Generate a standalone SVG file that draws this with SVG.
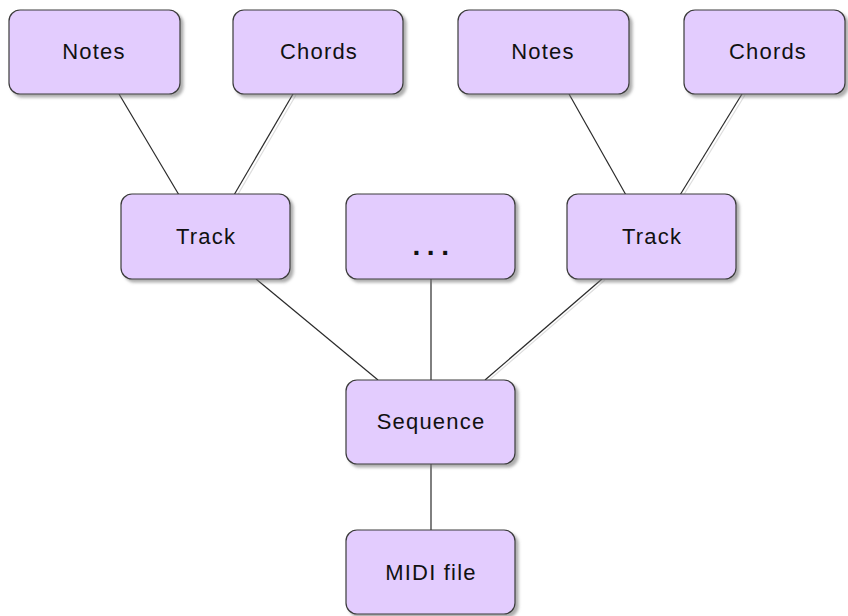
<svg xmlns="http://www.w3.org/2000/svg" width="848" height="616" viewBox="0 0 848 616">
<defs>
<filter id="sh" x="-10%" y="-10%" width="130%" height="130%">
<feDropShadow dx="3" dy="3" stdDeviation="1.5" flood-color="#777" flood-opacity="0.6"/>
</filter>
</defs>
<style>
.box{fill:#E3CCFE;stroke:#3a3a3a;stroke-width:1.2;filter:url(#sh)}
.lbl{font-family:"Liberation Sans",Arial,sans-serif;font-size:22px;letter-spacing:1.2px;fill:#111;text-anchor:middle}
.dots{font-family:"Liberation Sans",Arial,sans-serif;font-size:28px;font-weight:bold;letter-spacing:6.5px;fill:#111;text-anchor:middle}
.con line{stroke:#2a2a2a;stroke-width:1.2}
.conshadow line{stroke:#ddd;stroke-width:1.2}
</style>
<rect width="848" height="616" fill="#fff"/>
<g class="conshadow">
<line x1="296" y1="95" x2="237" y2="196"/>
<line x1="745" y1="95" x2="683" y2="196"/>
<line x1="605" y1="280" x2="488" y2="381"/>
</g>
<g id="connectors" class="con">
<line x1="119" y1="94" x2="179" y2="195"/>
<line x1="293" y1="94" x2="234" y2="195"/>
<line x1="569" y1="94" x2="626" y2="195"/>
<line x1="742" y1="94" x2="680" y2="195"/>
<line x1="256" y1="279" x2="378" y2="380"/>
<line x1="431" y1="279" x2="431" y2="380"/>
<line x1="602" y1="279" x2="485" y2="380"/>
<line x1="431" y1="464" x2="431" y2="530"/>
</g>
<g id="notes1"><rect class="box" x="9" y="10" width="171" height="84" rx="11"/><text class="lbl" x="94" y="59">Notes</text></g>
<g id="chords1"><rect class="box" x="233" y="10" width="170" height="84" rx="11"/><text class="lbl" x="319" y="59">Chords</text></g>
<g id="notes2"><rect class="box" x="458" y="10" width="171" height="84" rx="11"/><text class="lbl" x="543" y="59">Notes</text></g>
<g id="chords2"><rect class="box" x="684" y="10" width="161" height="84" rx="11"/><text class="lbl" x="768" y="59">Chords</text></g>
<g id="track1"><rect class="box" x="121" y="194" width="169" height="85" rx="11"/><text class="lbl" x="206" y="244">Track</text></g>
<g id="etc"><rect class="box" x="346" y="194" width="169" height="85" rx="11"/><text class="dots" x="434" y="255">...</text></g>
<g id="track2"><rect class="box" x="567" y="194" width="169" height="85" rx="11"/><text class="lbl" x="652" y="244">Track</text></g>
<g id="sequence"><rect class="box" x="346" y="380" width="169" height="84" rx="11"/><text class="lbl" x="431" y="429">Sequence</text></g>
<g id="midi"><rect class="box" x="346" y="530" width="169" height="84" rx="11"/><text class="lbl" x="431" y="580">MIDI file</text></g>
</svg>
